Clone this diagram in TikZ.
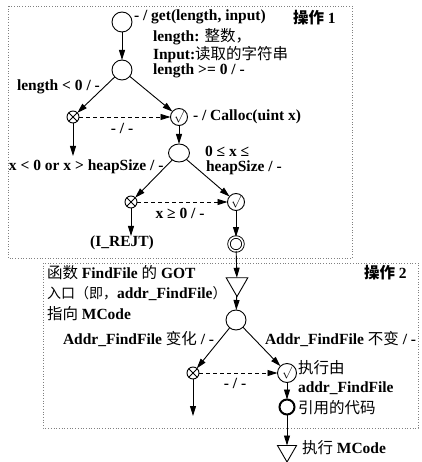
\documentclass[tikz,border=0pt]{standalone}
\usepackage{fontspec}
\setmainfont{Liberation Serif}
\newfontfamily\cjk{Noto Sans CJK SC}
\newcommand{\zh}[1]{{\cjk\mdseries\fontsize{15.5}{17}\selectfont #1}}
\newcommand{\zhs}[1]{{\cjk\mdseries\fontsize{14}{17}\selectfont #1}}
\newcommand{\zhb}[1]{{\cjk\bfseries\fontsize{15.5}{17}\selectfont #1}}
\usetikzlibrary{arrows.meta,shapes.geometric}
\begin{document}
\begin{tikzpicture}[x=1pt,y=-1pt,
  font=\fontsize{15.5}{17}\selectfont\bfseries,
  every node/.style={inner sep=0pt, outer sep=0pt},
  st/.style={circle,draw,line width=0.9pt,minimum size=20pt},
  xst/.style={circle,draw,line width=0.9pt,minimum size=12pt,
    path picture={\draw[line width=0.8pt] (path picture bounding box.north west) -- (path picture bounding box.south east)
      (path picture bounding box.south west) -- (path picture bounding box.north east);}},
  okst/.style={circle,draw,line width=0.9pt,minimum size=17pt,font=\fontsize{12}{12}\selectfont},
  dblst/.style={circle,draw,line width=0.9pt,double,double distance=1.6pt,minimum size=14pt},
  thkst/.style={circle,draw,line width=2pt,minimum size=15pt},
  tri/.style={regular polygon,regular polygon sides=3,shape border rotate=180,draw,line width=0.9pt,minimum size=25pt},
  arr/.style={line width=0.9pt,-{Triangle[length=10pt,width=6pt]}},
  darr/.style={arr,dash pattern=on 4pt off 3pt},
  lbl/.style={anchor=west},
  box/.style={draw=gray,line width=0.7pt,dotted}
]
\useasboundingbox (0,0) rectangle (421,462);
% boxes
\draw[box] (8,6) rectangle (352,258);
\draw[box] (43,263) rectangle (418,428);

% nodes
\node[st] (n1) at (122,22) {};
\node[st] (n2) at (122,70) {};
\node[xst] (n3) at (73,117) {};
\node[okst] (n4) at (179,117) {$\surd$};
\node[st,minimum width=21pt,minimum height=18pt,ellipse] (n5) at (179,153) {};
\node[xst] (n6) at (131,202) {};
\node[okst] (n7) at (236,202) {$\surd$};
\node[dblst] (n8) at (236,244) {};
\node[tri] (n9) at (237,284) {};
\node[st] (n10) at (236,320) {};
\node[xst] (n11) at (193,373) {};
\node[okst,minimum size=19pt] (n12) at (287,373) {$\surd$};
\node[thkst] (n13) at (287,407) {};
\node[tri,minimum size=22pt] (n14) at (287,451) {};

\coordinate (e3) at (73,156);
\coordinate (e11) at (193,416);

% texts
\node[lbl] (t1) at (134,17) {- / get(length, input)};
\node[lbl] (t2) at (153,37) {length: \zh{整数，}};
\node[lbl] (t3) at (153,55) {Input:\zh{读取的字符串}};
\node[lbl] (t4) at (153,71) {length >= 0 / -};
\node[lbl] (op1) at (293,18) {\zhb{操作} 1};
\node[lbl] (t5) at (17,87) {length < 0 / -};
\node[lbl] (t6) at (193,117) {- / Calloc(uint x)};
\node[lbl] (t7) at (9,167) {x < 0 or x > heapSize / -};
\node[lbl] (t8) at (205,151) {0 ≤ x ≤};
\node[lbl] (t9) at (206,168) {heapSize / -};
\node (d1) at (122,128) {- / -};
\node (d2) at (180,213) {x ≥ 0 / -};
\node (rej) at (122,243) {(I\_REJT)};
\node[lbl] (op2) at (364,273) {\zhb{操作} 2};
\node[lbl] (g1) at (47,273) {\zh{函数} FindFile \zh{的} GOT};
\node[lbl] (g2) at (47,294) {\zhs{入口（即，}addr\_FindFile\zhs{）}};
\node[lbl] (g3) at (47,314) {\zh{指向} MCode};
\node[lbl] (a1) at (63,339) {Addr\_FindFile \zh{变化} / -};
\node[lbl] (a2) at (265,339) {Addr\_FindFile \zh{不变} / -};
\node (d3) at (235,383) {- / -};
\node[lbl] (c1) at (298,368) {\zh{执行由}};
\node[lbl] (c2) at (298,388) {addr\_FindFile};
\node[lbl] (c3) at (298,408) {\zh{引用的代码}};
\node[lbl] (c4) at (302,448) {\zh{执行} MCode};

% connectors
\draw[arr] (n1) -- (n2);
\draw[arr] (n2) -- (n3);
\draw[arr] (n2) -- (n4);
\draw[darr] (n3) -- (n4);
\draw[arr] (n3) -- (e3);
\draw[arr] (n4) -- (n5);
\draw[arr] (n5) -- (n6);
\draw[arr] (n5) -- (n7);
\draw[darr] (n6) -- (n7);
\draw[arr] (n6) -- (n6 |- rej.north);
\draw[arr] (n7) -- (n8);
\draw[arr] (n8) -- (n9);
\draw[arr] (n9) -- (n10);
\draw[arr] (n10) -- (n11);
\draw[arr] (n10) -- (n12);
\draw[darr] (n11) -- (n12);
\draw[arr] (n11) -- (e11);
\draw[arr] (n12) -- (n13);
\draw[arr] (n13) -- (n14);
\end{tikzpicture}
\end{document}
